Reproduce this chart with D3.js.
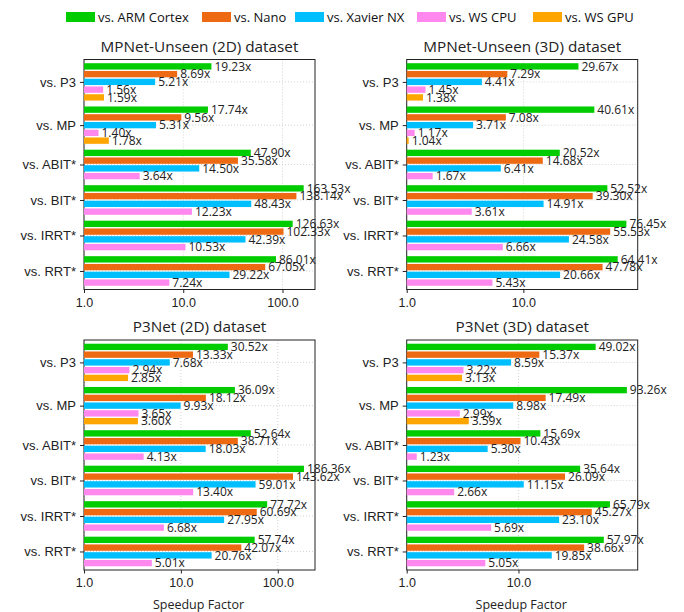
<!DOCTYPE html>
<html>
<head>
<meta charset="utf-8">
<script src="https://cdn.jsdelivr.net/npm/d3@7"></script>
<style>
  html, body { margin: 0; padding: 0; background: #fff; }
  svg { display: block; font-family: "Open Sans", "DejaVu Sans", sans-serif; }
</style>
</head>
<body>
<svg id="chart" width="684" height="612"></svg>
<script>
// Planner comparisons (rows) and hardware platforms (bars within a row)
const categories = ["vs. P3", "vs. MP", "vs. ABIT*", "vs. BIT*", "vs. IRRT*", "vs. RRT*"];
const platforms = ["vs. ARM Cortex", "vs. Nano", "vs. Xavier NX", "vs. WS CPU", "vs. WS GPU"];
const platformColors = ["#00cc00", "#ee6a12", "#00bfff", "#ff88ee", "#ffa500"];

const panelTitles = [
  "MPNet-Unseen (2D) dataset",
  "MPNet-Unseen (3D) dataset",
  "P3Net (2D) dataset",
  "P3Net (3D) dataset"
];

// Speedup factors, one row per category, one entry per platform
const mpnetUnseen2D = [
  [19.23, 8.69, 5.21, 1.56, 1.59],
  [17.74, 9.56, 5.31, 1.40, 1.78],
  [47.90, 35.58, 14.50, 3.64],
  [163.53, 138.14, 48.43, 12.23],
  [126.63, 102.33, 42.39, 10.53],
  [86.01, 67.05, 29.22, 7.24]
];
const mpnetUnseen3D = [
  [29.67, 7.29, 4.41, 1.45, 1.38],
  [40.61, 7.08, 3.71, 1.17, 1.04],
  [20.52, 14.68, 6.41, 1.67],
  [52.52, 39.30, 14.91, 3.61],
  [76.45, 55.53, 24.58, 6.66],
  [64.41, 47.78, 20.66, 5.43]
];
const p3net2D = [
  [30.52, 13.33, 7.68, 2.94, 2.85],
  [36.09, 18.12, 9.93, 3.65, 3.60],
  [52.64, 38.71, 18.03, 4.13],
  [186.36, 143.62, 59.01, 13.40],
  [77.72, 60.69, 27.95, 6.68],
  [57.74, 42.07, 20.76, 5.01]
];
const p3net3D = [
  [49.02, 15.37, 8.59, 3.22, 3.13],
  [93.26, 17.49, 8.98, 2.99, 3.59],
  [15.69, 10.43, 5.30, 1.23],
  [35.64, 26.09, 11.15, 2.66],
  [65.79, 45.27, 23.10, 5.69],
  [57.97, 38.66, 19.85, 5.05]
];

const xTickValues = [1, 10, 100];
const axisHeadroom = [1.3, 1.25, 1.3, 1.25];

const panels = [
  { title: panelTitles[0], data: mpnetUnseen2D, left: 84,    top: 59.5, xlabel: false },
  { title: panelTitles[1], data: mpnetUnseen3D, left: 406.7, top: 59.5, xlabel: false },
  { title: panelTitles[2], data: p3net2D,       left: 84,    top: 340,  xlabel: true },
  { title: panelTitles[3], data: p3net3D,       left: 406.7, top: 340,  xlabel: true }
];
const panelW = 231, panelH = 230;

const svg = d3.select("#chart");

// Legend across the top
const legend = svg.append("g").attr("class", "legend");
const legendX = [66, 202, 295, 417, 533];
platforms.forEach((name, i) => {
  const g = legend.append("g").attr("transform", `translate(${legendX[i]},12)`);
  g.append("rect").attr("width", 29).attr("height", 10).attr("fill", platformColors[i]);
  g.append("text").attr("x", 32).attr("y", 10)
    .attr("font-size", 13).attr("fill", "#111").text(name);
});

// Vertical layout in "bar slot" units
const barThickness = 0.82, groupGap = 0.58, edgePad = 0.39;

panels.forEach((p, pi) => {
  const g = svg.append("g").attr("transform", `translate(${p.left},${p.top})`);

  // slot positions for each bar
  const bars = [];
  const groupCenters = [];
  let pos = edgePad;
  p.data.forEach((row, ci) => {
    const start = pos;
    row.forEach((v, si) => {
      bars.push({ cat: ci, series: si, value: v, slot: pos });
      pos += 1;
    });
    groupCenters.push({ cat: ci, center: (start + pos) / 2 });
    pos += groupGap;
  });
  const totalUnits = pos - groupGap + edgePad;

  const y = d3.scaleLinear().domain([0, totalUnits]).range([0, panelH]);
  const maxVal = d3.max(p.data.flat());
  const x = d3.scaleLog().domain([1, maxVal * axisHeadroom[pi]]).range([0, panelW]);
  const ticks = xTickValues.filter(t => t <= maxVal);

  // grid
  const grid = g.append("g").attr("class", "grid")
    .attr("stroke", "#c8c8c8").attr("stroke-width", 0.8).attr("stroke-dasharray", "1,2");
  grid.selectAll("line.vx").data(ticks).join("line").attr("class", "vx")
    .attr("x1", d => x(d)).attr("x2", d => x(d)).attr("y1", 0).attr("y2", panelH);
  grid.selectAll("line.hy").data(groupCenters).join("line").attr("class", "hy")
    .attr("x1", 0).attr("x2", panelW).attr("y1", d => y(d.center)).attr("y2", d => y(d.center));

  // frame
  g.append("rect").attr("x", 0).attr("y", 0).attr("width", panelW).attr("height", panelH)
    .attr("fill", "none").attr("stroke", "#222").attr("stroke-width", 1);

  // bars
  const off = (1 - barThickness) / 2;
  g.selectAll("rect.bar").data(bars).join("rect").attr("class", "bar")
    .attr("x", x(1))
    .attr("y", d => y(d.slot + off))
    .attr("width", d => x(d.value) - x(1))
    .attr("height", y(barThickness) - y(0))
    .attr("fill", d => platformColors[d.series]);

  // value labels
  g.selectAll("text.val").data(bars).join("text").attr("class", "val")
    .attr("x", d => x(d.value) + 3)
    .attr("y", d => y(d.slot + 0.5))
    .attr("dy", "0.36em")
    .attr("font-size", 12).attr("fill", "#222")
    .text(d => d.value.toFixed(2) + "x");

  // x axis
  const xAxis = d3.axisBottom(x).tickValues(ticks).tickFormat(d3.format(".1f")).tickSize(3.5).tickPadding(5);
  const xa = g.append("g").attr("transform", `translate(0,${panelH})`).call(xAxis);
  xa.select(".domain").remove();
  xa.selectAll("text").attr("font-size", 12.5).attr("fill", "#222").attr("font-family", null);
  xa.selectAll("line").attr("stroke", "#222");

  // y axis
  const yAxis = d3.axisLeft(y).tickValues(groupCenters.map(d => d.center))
    .tickFormat((d, i) => categories[i]).tickSize(4).tickPadding(4);
  const ya = g.append("g").call(yAxis);
  ya.select(".domain").remove();
  ya.selectAll("text").attr("font-size", 13).attr("fill", "#222").attr("font-family", null);
  ya.selectAll("line").attr("stroke", "#222");

  // title
  g.append("text").attr("x", panelW / 2).attr("y", -8).attr("text-anchor", "middle")
    .attr("font-size", 15.3).attr("fill", "#222").text(p.title);

  if (p.xlabel) {
    g.append("text").attr("x", panelW / 2 - 1).attr("y", panelH + 39).attr("text-anchor", "middle")
      .attr("font-size", 12.5).attr("fill", "#222").text("Speedup Factor");
  }
});
</script>
</body>
</html>
